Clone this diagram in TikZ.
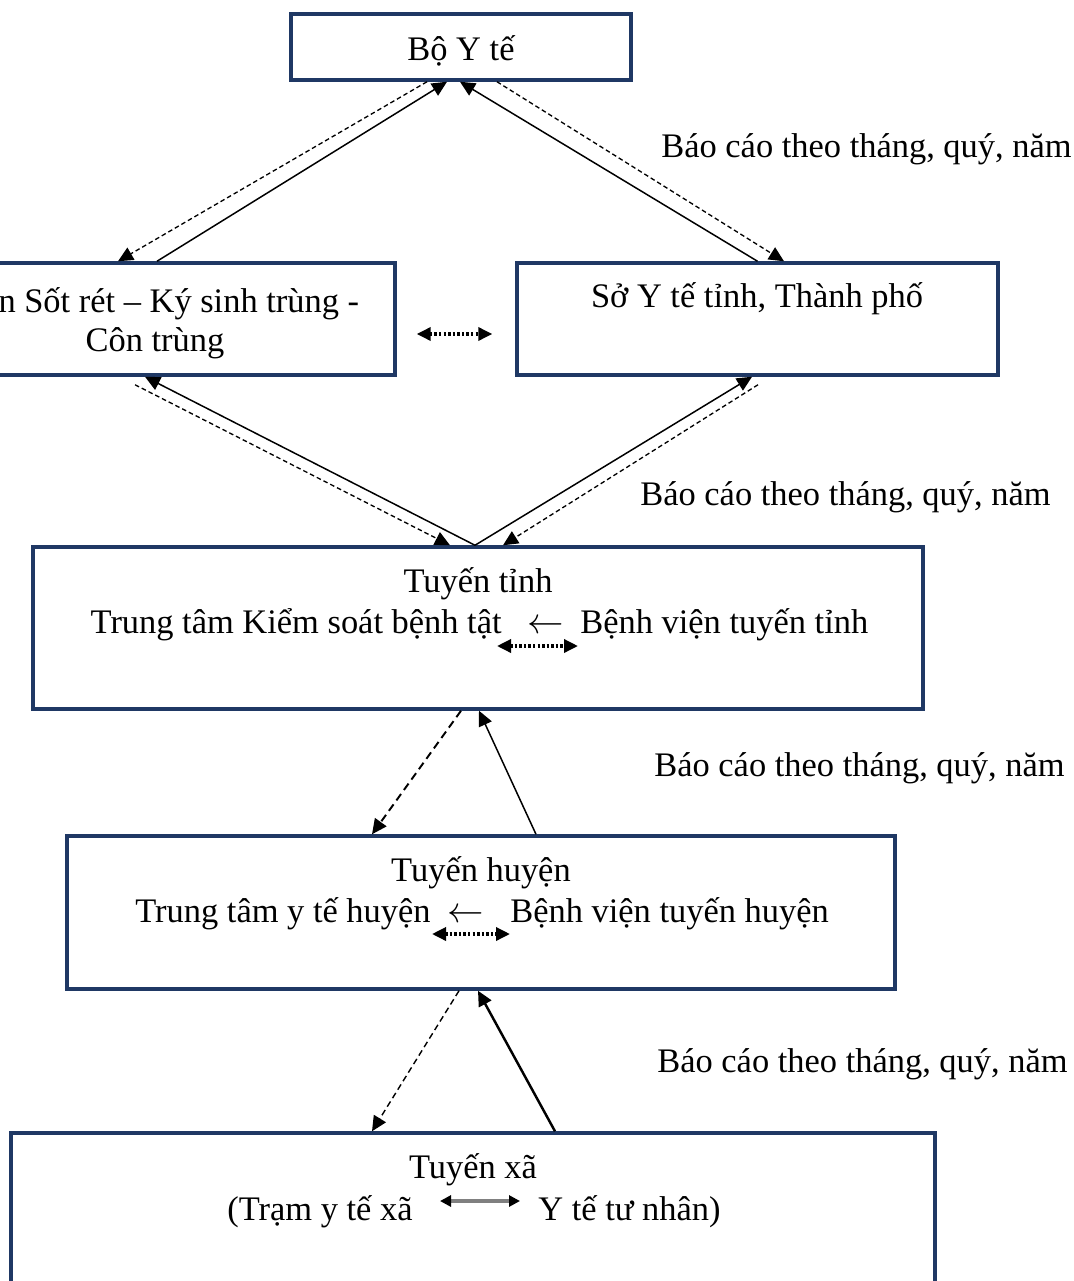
\documentclass[tikz,border=0pt]{standalone}
\usepackage{fontspec}
\setmainfont{Liberation Serif}
\usetikzlibrary{arrows.meta}
\definecolor{boxblue}{RGB}{31,56,100}
\tikzset{
  box/.style={draw=boxblue, line width=2pt, fill=white, inner sep=0pt},
  txt/.style={inner sep=0pt, font=\fontsize{19.6pt}{23.5pt}\selectfont},
  upline/.style={line width=0.85pt, -{Triangle[length=0.3cm,width=0.28cm]}},
  downline/.style={line width=0.75pt, dash pattern=on 2.6pt off 1.7pt, -{Triangle[length=0.3cm,width=0.28cm]}},
  dotarr/.style={line width=1.9pt, dash pattern=on 1.4pt off 1.2pt, {Triangle[length=0.28cm,width=0.26cm]}-{Triangle[length=0.28cm,width=0.26cm]}}
}
\begin{document}
\begin{tikzpicture}[x=0.02cm, y=-0.02cm]
\clip (0,0) rectangle (1074,1281);
\fill[white] (0,0) rectangle (1074,1281);
\node[box, minimum width=6.8cm, minimum height=1.32cm] (bo) at (461,47) {};
\node[box, minimum width=9.6cm, minimum height=2.24cm] (vien) at (155,319) {};
\node[box, minimum width=9.62cm, minimum height=2.24cm] (so) at (757.5,319) {};
\node[box, minimum width=17.8cm, minimum height=3.24cm] (tinh) at (478,628) {};
\node[box, minimum width=16.56cm, minimum height=3.06cm] (huyen) at (481,912.5) {};
\node[box, minimum width=18.48cm, minimum height=3.4cm] (xa) at (473,1218) {};

\node[txt, anchor=base] (bo-t) at (461,60) {Bộ Y tế};
\node[txt, anchor=base] (vien-t1) at (155,312) {Viện Sốt rét – Ký sinh trùng -};
\node[txt, anchor=base] (vien-t2) at (155,351) {Côn trùng};
\node[txt, anchor=base] (so-t) at (757,307) {Sở Y tế tỉnh, Thành phố};

\node[txt, anchor=base] (tinh-t) at (478,592) {Tuyến tỉnh};
\node[txt, anchor=base east] (tinh-l) at (502,633) {Trung tâm Kiểm soát bệnh tật};
\node[txt, anchor=base] (tinh-a) at (546,633) {$\leftarrow$};
\node[txt, anchor=base west] (tinh-r) at (580,633) {Bệnh viện tuyến tỉnh};

\node[txt, anchor=base] (huyen-t) at (481,881) {Tuyến huyện};
\node[txt, anchor=base east] (huyen-l) at (431,922) {Trung tâm y tế huyện};
\node[txt, anchor=base] (huyen-a) at (466,922) {$\leftarrow$};
\node[txt, anchor=base west] (huyen-r) at (510,922) {Bệnh viện tuyến huyện};

\node[txt, anchor=base] (xa-t) at (473,1178) {Tuyến xã};
\node[txt, anchor=base east] (xa-l) at (413,1220) {(Trạm y tế xã};
\node[txt, anchor=base west] (xa-r) at (538,1220) {Y tế tư nhân)};

\node[txt, anchor=base west] (bc1) at (661,157) {Báo cáo theo tháng, quý, năm};
\node[txt, anchor=base west] (bc2) at (640,505) {Báo cáo theo tháng, quý, năm};
\node[txt, anchor=base west] (bc3) at (654,776) {Báo cáo theo tháng, quý, năm};
\node[txt, anchor=base west] (bc4) at (657,1072) {Báo cáo theo tháng, quý, năm};

\draw[downline] ([xshift=-0.68cm]bo.south) -- ([xshift=-0.74cm]vien.north);
\draw[upline] ([xshift=0.04cm]vien.north) -- ([xshift=-0.28cm]bo.south);
\draw[upline] (so.north) -- ([xshift=-0.02cm]bo.south);
\draw[downline] ([xshift=0.72cm]bo.south) -- ([xshift=0.53cm]so.north);

\draw[dotarr] ([shift={(0.4cm,-0.3cm)}]vien.east) -- ([shift={(-0.46cm,-0.3cm)}]so.west);

\draw[upline] ([xshift=-0.06cm]tinh.north) -- ([xshift=-0.2cm]vien.south);
\draw[downline] ([shift={(-0.4cm,-0.16cm)}]vien.south) -- ([xshift=-0.56cm]tinh.north);
\draw[upline] ([xshift=-0.06cm]tinh.north) -- ([xshift=-0.11cm]so.south);
\draw[downline] ([shift={(0.01cm,-0.16cm)}]so.south) -- ([xshift=0.5cm]tinh.north);

\coordinate (tinh-d1) at (497,646);
\coordinate (tinh-d2) at (578,646);
\draw[dotarr] (tinh-d1) -- (tinh-d2);

\draw[downline, line width=1.1pt, dash pattern=on 4.5pt off 2.8pt] ([xshift=-0.34cm]tinh.south) -- ([xshift=-2.18cm]huyen.north);
\draw[upline] ([xshift=1.1cm]huyen.north) -- ([xshift=0.02cm]tinh.south);

\coordinate (huyen-d1) at (432,934);
\coordinate (huyen-d2) at (510,934);
\draw[dotarr] (huyen-d1) -- (huyen-d2);

\draw[downline, line width=0.8pt, dash pattern=on 3.5pt off 2.2pt] ([xshift=-0.44cm]huyen.south) -- ([xshift=-2.02cm]xa.north);
\draw[upline, line width=1.4pt] ([xshift=1.64cm]xa.north) -- ([xshift=-0.06cm]huyen.south);

\coordinate (xa-d1) at (440,1201);
\coordinate (xa-d2) at (520,1201);
\draw[line width=1.8pt, gray, {Triangle[length=0.22cm,width=0.22cm,color=black]}-{Triangle[length=0.22cm,width=0.22cm,color=black]}] (xa-d1) -- (xa-d2);
\end{tikzpicture}
\end{document}
